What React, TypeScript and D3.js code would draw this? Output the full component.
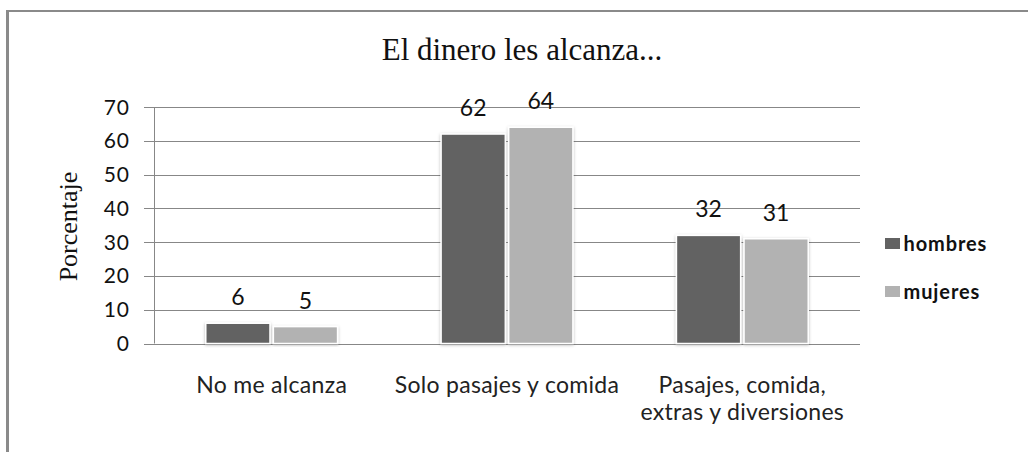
import React from "react";
import * as d3 from "d3";

const title = "El dinero les alcanza...";
const yAxisTitle = "Porcentaje";
const categories = ["No me alcanza", "Solo pasajes y comida", "Pasajes, comida, extras y diversiones"];
const categoryLines = [["No me alcanza"], ["Solo pasajes y comida"], ["Pasajes, comida,", "extras y diversiones"]];
const seriesNames = ["hombres", "mujeres"];
const hombres = [6, 62, 32];
const mujeres = [5, 64, 31];
const yTicks = [0, 10, 20, 30, 40, 50, 60, 70];
const colors = ["#626262", "#b2b2b2"];

const W = 1028;
const H = 452;
const plot = { left: 154, right: 860, top: 107, bottom: 343.5 };
const sans = "Lato, 'Open Sans', sans-serif";
const serif = "'Liberation Serif', 'Times New Roman', serif";

export default function App() {
  const seriesValues = [hombres, mujeres];
  const y = d3.scaleLinear().domain([0, 70]).range([plot.bottom, plot.top]);
  const x0 = d3
    .scaleBand<string>()
    .domain(categories)
    .range([plot.left, plot.right])
    .paddingInner(0.44)
    .paddingOuter(0.22);
  const x1 = d3
    .scaleBand<string>()
    .domain(seriesNames)
    .range([0, x0.bandwidth()])
    .paddingInner(0.05);

  return (
    <svg
      width={W}
      height={H}
      style={{ position: "absolute", left: 0, top: 0, background: "#fff" }}
    >
      <defs>
        <filter id="glow" x="-20%" y="-20%" width="140%" height="140%">
          <feDropShadow dx="0" dy="1" stdDeviation="1.6" floodColor="#000" floodOpacity="0.28" />
        </filter>
      </defs>
      <rect x={0} y={0} width={W} height={H} fill="#fff" />
      {/* frame */}
      <line x1={7.5} x2={7.5} y1={10} y2={H} stroke="#8a8a8a" strokeWidth={3} />
      <line x1={6} x2={W} y1={11} y2={11} stroke="#8a8a8a" strokeWidth={2} />

      {/* title */}
      <text
        x={522}
        y={60}
        textAnchor="middle"
        fontFamily={serif}
        fontSize={31}
        fill="#111"
      >
        {title}
      </text>

      {/* y axis title */}
      <text
        transform={`translate(77,226.5) rotate(-90)`}
        textAnchor="middle"
        fontFamily={serif}
        fontSize={26}
        fill="#111"
      >
        {yAxisTitle}
      </text>

      {/* gridlines & ticks */}
      {yTicks.map((t) => (
        <g key={t}>
          <line
            x1={plot.left - 10}
            x2={plot.right}
            y1={Math.round(y(t)) + 0.5}
            y2={Math.round(y(t)) + 0.5}
            stroke="#878787"
            strokeWidth={1}
          />
          <text
            x={130}
            y={y(t) + 7.5}
            textAnchor="end"
            fontFamily={sans}
            fontSize={21}
            letterSpacing={1}
            fill="#111"
          >
            {t}
          </text>
        </g>
      ))}
      <line
        x1={plot.left + 0.5}
        x2={plot.left + 0.5}
        y1={y(70)}
        y2={y(0)}
        stroke="#878787"
        strokeWidth={1}
      />

      {/* bars */}
      {categories.map((c, ci) => (
        <g key={c} transform={`translate(${x0(c)},0)`}>
          {seriesNames.map((s, si) => {
            const v = seriesValues[si][ci];
            const bx = x1(s) as number;
            return (
              <g key={s}>
                <rect
                  x={bx}
                  y={y(v)}
                  width={x1.bandwidth()}
                  height={y(0) - y(v)}
                  fill={colors[si]}
                  stroke="#fff"
                  strokeWidth={1.5}
                  filter="url(#glow)"
                />
                <text
                  x={bx + x1.bandwidth() / 2}
                  y={y(v) - 18}
                  textAnchor="middle"
                  fontFamily={sans}
                  fontSize={23}
                  fill="#111"
                >
                  {v}
                </text>
              </g>
            );
          })}
        </g>
      ))}

      {/* category labels */}
      {categories.map((c, ci) => (
        <text
          key={c}
          x={(x0(c) as number) + x0.bandwidth() / 2}
          y={393}
          textAnchor="middle"
          fontFamily={sans}
          fontSize={23}
          letterSpacing={0.3}
          fill="#222"
        >
          {categoryLines[ci].map((ln, li) => (
            <tspan key={li} x={(x0(c) as number) + x0.bandwidth() / 2} dy={li === 0 ? 0 : 27}>
              {ln}
            </tspan>
          ))}
        </text>
      ))}

      {/* legend */}
      {seriesNames.map((s, si) => (
        <g key={s} transform={`translate(885,${238 + si * 48})`}>
          <rect x={0} y={0} width={15} height={11} fill={colors[si]} />
          <text
            x={18.5}
            y={13}
            fontFamily={sans}
            fontSize={20}
            fontWeight="bold"
            letterSpacing={0.9}
            fill="#111"
          >
            {s}
          </text>
        </g>
      ))}
    </svg>
  );
}
